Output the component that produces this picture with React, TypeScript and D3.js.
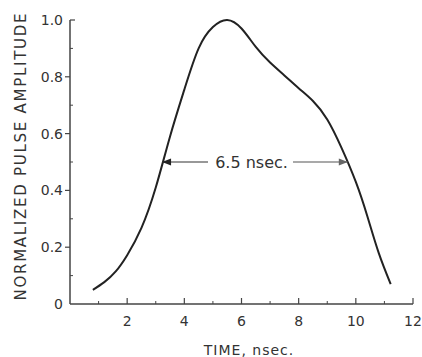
import React from "react";
import * as d3 from "d3";

const timeNs = [0.8, 1.2, 1.6, 2.0, 2.5, 3.0, 3.5, 4.0, 4.5, 5.0, 5.5, 6.0, 6.5, 7.0, 7.5, 8.0, 8.5, 9.0, 9.5, 10.0, 10.4, 10.8, 11.22];
const amplitude = [0.05, 0.077, 0.115, 0.172, 0.268, 0.41, 0.59, 0.755, 0.9, 0.975, 1.0, 0.97, 0.905, 0.85, 0.805, 0.76, 0.715, 0.65, 0.55, 0.43, 0.31, 0.18, 0.07];

const xMajorTicks = [2, 4, 6, 8, 10, 12];
const xMinorTicks = [1, 3, 5, 7, 9, 11];
const yMajorTicks = [0, 0.2, 0.4, 0.6, 0.8, 1.0];
const yTickLabels = ["0", "0.2", "0.4", "0.6", "0.8", "1.0"];
const yMinorTicks = [0.1, 0.3, 0.5, 0.7, 0.9];

const widthLevel = 0.5;
const widthStart = 3.22;
const widthEnd = 9.72;
const widthLabel = "6.5 nsec.";
const xTitle = "TIME, nsec.";
const yTitle = "NORMALIZED PULSE AMPLITUDE";

export default function App() {
  const W = 422, H = 357;
  const x = d3.scaleLinear().domain([0, 12]).range([70, 413]);
  const y = d3.scaleLinear().domain([0, 1]).range([304, 20]);
  const pts: [number, number][] = timeNs.map((t, i) => [t, amplitude[i]]);
  const line = d3.line<[number, number]>().x(d => x(d[0])).y(d => y(d[1])).curve(d3.curveNatural);
  const axisColor = "#444";
  const txt = "#333";
  const font = "DejaVu Sans, sans-serif";
  const ay = y(widthLevel);
  const x1 = x(widthStart), x2 = x(widthEnd);
  const labelX = (215 + 288) / 2;
  return (
    <svg width={W} height={H} style={{ position: "absolute", left: 0, top: 0, background: "#fff" }}>
      <rect width={W} height={H} fill="#fff" />
      <line x1={x(0)} x2={x(0)} y1={y(1)} y2={y(0)} stroke={axisColor} strokeWidth={1.5} />
      <line x1={x(0)} x2={x(12)} y1={y(0)} y2={y(0)} stroke={axisColor} strokeWidth={1.5} />
      {yMajorTicks.map((v, i) => (
        <g key={"ym" + i}>
          {v > 0 && v < 1 && <line x1={x(0) - 5} x2={x(0)} y1={y(v)} y2={y(v)} stroke={axisColor} strokeWidth={1.2} />}
          {v === 1 && <line x1={x(0)} x2={x(0) + 5} y1={y(v)} y2={y(v)} stroke={axisColor} strokeWidth={1.2} />}
          <text x={63} y={y(v) + 5} textAnchor="end" fontFamily={font} fontSize={14} fill={txt}>{yTickLabels[i]}</text>
        </g>
      ))}
      {yMinorTicks.map((v, i) => (
        <line key={"yn" + i} x1={x(0)} x2={x(0) + 3} y1={y(v)} y2={y(v)} stroke={axisColor} strokeWidth={1} />
      ))}
      {xMajorTicks.map((v, i) => (
        <g key={"xm" + i}>
          <line x1={x(v)} x2={x(v)} y1={y(0)} y2={y(0) - 6} stroke={axisColor} strokeWidth={1.2} />
          <text x={x(v)} y={326} textAnchor="middle" fontFamily={font} fontSize={14} fill={txt}>{v}</text>
        </g>
      ))}
      {xMinorTicks.map((v, i) => (
        <line key={"xn" + i} x1={x(v)} x2={x(v)} y1={y(0)} y2={y(0) - 3} stroke={axisColor} strokeWidth={1} />
      ))}
      <text x={249} y={355} textAnchor="middle" fontFamily={font} fontSize={14} letterSpacing={1} fill={txt}>{xTitle}</text>
      <text transform={`translate(26,157) rotate(-90)`} textAnchor="middle" fontFamily={font} fontSize={15} fill={txt} textLength={287} lengthAdjust="spacing">{yTitle}</text>
      <path d={line(pts) || ""} fill="none" stroke="#222" strokeWidth={2} />
      <line x1={x1} x2={208} y1={ay} y2={ay} stroke="#333" strokeWidth={1.2} />
      <path d={`M${x1},${ay} l9,-3.5 l0,7 z`} fill="#222" />
      <line x1={293} x2={x2} y1={ay} y2={ay} stroke="#555" strokeWidth={1.2} />
      <path d={`M${x2},${ay} l-9,-3.5 l0,7 z`} fill="#666" />
      <text x={labelX} y={ay + 6} textAnchor="middle" fontFamily={font} fontSize={16} fill={txt}>{widthLabel}</text>
    </svg>
  );
}
